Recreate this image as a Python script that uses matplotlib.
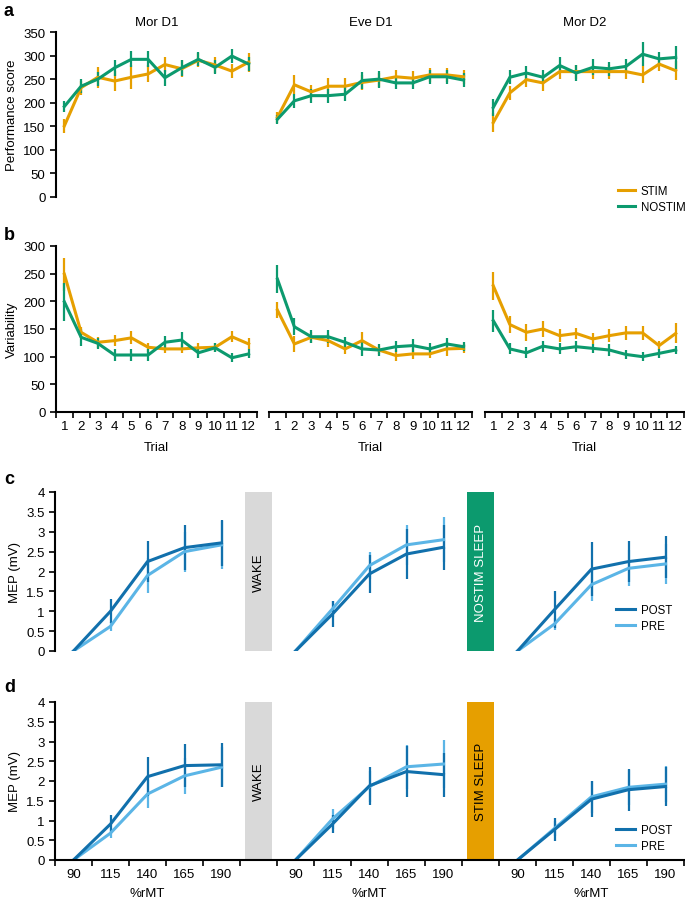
import matplotlib.pyplot as plt
import numpy as np
from matplotlib.transforms import blended_transform_factory

plt.rcParams['font.family'] = ['Liberation Sans', 'DejaVu Sans']
plt.rcParams['font.size'] = 9.5

# ---- datos ----
trials = np.arange(1, 13)
sessions = ['Mor D1', 'Eve D1', 'Mor D2']

# panel a: performance score (media y error)
perf_stim = [
    [151, 232, 254, 246, 254, 261, 281, 272, 290, 280, 267, 286],
    [169, 238, 223, 235, 235, 243, 248, 255, 252, 259, 259, 255],
    [158, 221, 249, 242, 266, 266, 266, 266, 266, 259, 282, 268],
]
perf_stim_err = [
    [15, 15, 22, 22, 25, 18, 15, 18, 15, 18, 15, 20],
    [12, 20, 15, 18, 18, 15, 15, 15, 15, 15, 15, 15],
    [20, 15, 15, 18, 15, 15, 15, 15, 15, 18, 15, 20],
]
perf_nostim = [
    [192, 235, 250, 274, 292, 292, 253, 274, 292, 275, 299, 282],
    [165, 204, 215, 215, 218, 247, 250, 242, 242, 255, 255, 248],
    [190, 254, 263, 254, 279, 263, 275, 272, 277, 303, 293, 296],
]
perf_nostim_err = [
    [12, 15, 15, 17, 17, 17, 17, 17, 15, 15, 15, 15],
    [10, 15, 15, 15, 15, 18, 18, 12, 12, 15, 15, 15],
    [18, 15, 15, 15, 17, 17, 17, 15, 15, 25, 15, 25],
]

# panel b: variability
var_stim = [
    [249, 144, 126, 129, 134, 117, 114, 114, 116, 117, 136, 123],
    [184, 123, 135, 129, 114, 129, 112, 102, 105, 105, 114, 115],
    [228, 158, 144, 150, 138, 142, 132, 138, 143, 143, 120, 142],
]
var_stim_err = [
    [30, 10, 10, 10, 12, 8, 8, 8, 8, 8, 10, 10],
    [15, 15, 10, 12, 10, 15, 8, 10, 10, 8, 12, 8],
    [25, 15, 15, 15, 12, 10, 10, 12, 12, 12, 8, 18],
]
var_nostim = [
    [199, 135, 124, 103, 103, 103, 126, 130, 107, 116, 98, 105],
    [240, 154, 136, 136, 126, 114, 112, 118, 120, 114, 123, 118],
    [165, 114, 107, 119, 114, 118, 115, 112, 104, 100, 106, 112],
]
var_nostim_err = [
    [35, 15, 10, 10, 10, 10, 12, 15, 10, 8, 8, 8],
    [25, 15, 12, 12, 10, 12, 10, 10, 12, 10, 10, 8],
    [20, 10, 10, 10, 10, 10, 8, 10, 8, 8, 8, 8],
]

# paneles c y d: MEP (mV) por intensidad
rmt = ['90', '115', '140', '165', '190']

mep_c_post = [[0, 1.00, 2.25, 2.60, 2.72], [0, 0.93, 1.94, 2.44, 2.61], [0, 1.04, 2.06, 2.25, 2.36]]
mep_c_post_err = [[0, 0.30, 0.52, 0.57, 0.57], [0, 0.33, 0.47, 0.64, 0.56], [0, 0.47, 0.68, 0.51, 0.53]]
mep_c_pre = [[0, 0.62, 1.90, 2.50, 2.67], [0, 1.06, 2.15, 2.67, 2.80], [0, 0.68, 1.67, 2.08, 2.19]]
mep_c_pre_err = [[0, 0.12, 0.45, 0.50, 0.60], [0, 0.20, 0.35, 0.50, 0.57], [0, 0.15, 0.40, 0.45, 0.50]]

mep_d_post = [[0, 0.91, 2.11, 2.39, 2.41], [0, 0.91, 1.88, 2.24, 2.16], [0, 0.77, 1.54, 1.78, 1.86]]
mep_d_post_err = [[0, 0.22, 0.49, 0.54, 0.55], [0, 0.22, 0.48, 0.65, 0.56], [0, 0.29, 0.46, 0.53, 0.49]]
mep_d_pre = [[0, 0.68, 1.67, 2.13, 2.35], [0, 1.04, 1.86, 2.36, 2.43], [0, 0.80, 1.60, 1.84, 1.92]]
mep_d_pre_err = [[0, 0.12, 0.35, 0.46, 0.50], [0, 0.26, 0.40, 0.55, 0.60], [0, 0.20, 0.40, 0.45, 0.45]]

# ---- estilo ----
C_STIM = '#E69F00'
C_NOSTIM = '#0C9A6E'
C_POST = '#1170AC'
C_PRE = '#5BB5E6'
C_WAKE = '#D9D9D9'
LW = 2.2
ELW = 1.6
FS_LEG = 8.3

W, H = 685, 904
fig = plt.figure(figsize=(W / 100, H / 100), dpi=100)


def rect(l, t, r, b):
    """Convierte coordenadas en pixeles a rect de figura"""
    return [l / W, 1 - b / H, (r - l) / W, (b - t) / H]


def linea(ax, x, y, e, color):
    ax.errorbar(x, y, yerr=e, color=color, lw=LW, elinewidth=ELW, capsize=0)


group_px = [(56, 257), (269, 472), (485, 684)]

# ---- panel a ----
axes_a = []
for i, (l, r) in enumerate(group_px):
    ax = fig.add_axes(rect(l, 33, r, 198))
    linea(ax, trials, perf_stim[i], perf_stim_err[i], C_STIM)
    linea(ax, trials, perf_nostim[i], perf_nostim_err[i], C_NOSTIM)
    ax.set_xlim(0.5, 12.5)
    ax.set_ylim(0, 350)
    ax.set_title(sessions[i], fontsize=9.5, pad=5)
    for s in ['top', 'right', 'bottom']:
        ax.spines[s].set_visible(False)
    ax.set_xticks([])
    if i == 0:
        ax.set_yticks(np.arange(0, 351, 50))
        ax.set_ylabel('Performance score')
        ax.spines['left'].set_linewidth(1.5)
        ax.tick_params(axis='y', width=1.2, length=4)
    else:
        ax.spines['left'].set_visible(False)
        ax.set_yticks([])
    axes_a.append(ax)

h1, = axes_a[2].plot([], [], color=C_STIM, lw=LW, label='STIM')
h2, = axes_a[2].plot([], [], color=C_NOSTIM, lw=LW, label='NOSTIM')
fig.legend(handles=[h1, h2], loc='center left', bbox_to_anchor=(608 / W, 1 - 200 / H),
           frameon=False, handlelength=1.45, labelspacing=0.35, handletextpad=0.5,
           fontsize=FS_LEG)

# ---- panel b ----
for i, (l, r) in enumerate(group_px):
    ax = fig.add_axes(rect(l, 247, r, 413))
    linea(ax, trials, var_stim[i], var_stim_err[i], C_STIM)
    linea(ax, trials, var_nostim[i], var_nostim_err[i], C_NOSTIM)
    ax.set_xlim(0.5, 12.5)
    ax.set_ylim(0, 300)
    for s in ['top', 'right']:
        ax.spines[s].set_visible(False)
    ax.spines['bottom'].set_linewidth(1.5)
    ax.set_xticks(np.arange(0.5, 13, 1))
    ax.set_xticklabels([])
    ax.set_xticks(trials, minor=True)
    ax.set_xticklabels([str(t) for t in trials], minor=True)
    ax.tick_params(axis='x', which='major', width=1.2, length=4)
    ax.tick_params(axis='x', which='minor', length=0, pad=6)
    ax.set_xlabel('Trial', labelpad=6)
    if i == 0:
        ax.set_yticks(np.arange(0, 301, 50))
        ax.set_ylabel('Variability')
        ax.spines['left'].set_linewidth(1.5)
        ax.tick_params(axis='y', width=1.2, length=4)
    else:
        ax.spines['left'].set_visible(False)
        ax.set_yticks([])

# ---- paneles c y d ----
pos_grupos = [np.arange(1, 6), np.arange(7, 12), np.arange(13, 18)]


def panel_mep(top, bottom, post, post_err, pre, pre_err, bloque2, color2, texto2, eje_x, leg_y):
    ax = fig.add_axes(rect(55, top, 684, bottom))
    ax.bar([6, 12], [4, 4], width=0.73, color=[C_WAKE, color2], zorder=0)
    ax.text(6, 2, 'WAKE', rotation=90, ha='center', va='center')
    ax.text(12, 2, bloque2, rotation=90, ha='center', va='center', color=texto2)
    for g, x in enumerate(pos_grupos):
        linea(ax, x, pre[g], pre_err[g], C_PRE)
        linea(ax, x, post[g], post_err[g], C_POST)
    ax.set_xlim(0.5, 17.5)
    ax.set_ylim(0, 4)
    ax.set_yticks(np.arange(0, 4.01, 0.5))
    ax.set_yticklabels(['0', '0.5', '1', '1.5', '2', '2.5', '3', '3.5', '4'])
    ax.set_ylabel('MEP (mV)')
    ax.spines['left'].set_linewidth(1.5)
    ax.tick_params(axis='y', width=1.2, length=4)
    for s in ['top', 'right']:
        ax.spines[s].set_visible(False)
    if eje_x:
        ax.spines['bottom'].set_linewidth(1.5)
        ax.set_xticks(np.arange(0.5, 18, 1))
        ax.set_xticklabels([])
        xs = np.concatenate(pos_grupos)
        ax.set_xticks(xs, minor=True)
        ax.set_xticklabels(rmt * 3, minor=True)
        ax.tick_params(axis='x', which='major', width=1.2, length=4)
        ax.tick_params(axis='x', which='minor', length=0, pad=6)
        tr = blended_transform_factory(ax.transData, ax.transAxes)
        for x in pos_grupos:
            ax.text(x.mean(), -0.21, '%rMT', transform=tr, ha='center', va='center')
    else:
        ax.spines['bottom'].set_visible(False)
        ax.set_xticks([])
    hp, = ax.plot([], [], color=C_POST, lw=LW, label='POST')
    hq, = ax.plot([], [], color=C_PRE, lw=LW, label='PRE')
    ax.legend(handles=[hp, hq], loc='center left', bbox_to_anchor=(606 / W, 1 - leg_y / H),
              bbox_transform=fig.transFigure, frameon=False, handlelength=1.6,
              labelspacing=0.35, handletextpad=0.5, fontsize=FS_LEG)
    return ax


panel_mep(493, 652, mep_c_post, mep_c_post_err, mep_c_pre, mep_c_pre_err,
          'NOSTIM SLEEP', C_NOSTIM, 'white', False, 619)
panel_mep(703, 861, mep_d_post, mep_d_post_err, mep_d_pre, mep_d_pre_err,
          'STIM SLEEP', C_STIM, 'black', True, 839)

# letras de panel
for letra, y in zip('abcd', [12, 236, 480, 688]):
    fig.text(4 / W, 1 - y / H, letra, fontsize=13, fontweight='bold', va='center')

fig.savefig('out.png', dpi=100)
